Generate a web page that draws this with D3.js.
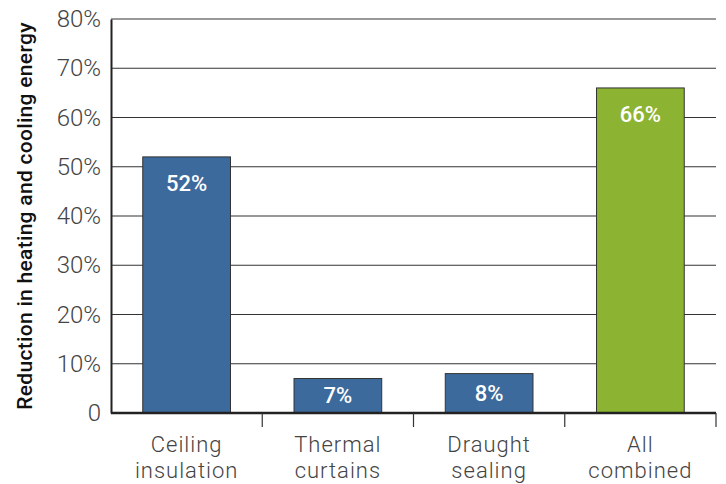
<!DOCTYPE html>
<html>
<head>
<meta charset="utf-8">
<script src="https://cdn.jsdelivr.net/npm/d3@7"></script>
<style>
  html, body { margin: 0; padding: 0; background: #fff; overflow: hidden; }
  svg { display: block; }
  svg text { font-family: Roboto, "DejaVu Sans", sans-serif; }
</style>
</head>
<body>
<div id="chart"></div>
<script>
const categories = [["Ceiling", "insulation"], ["Thermal", "curtains"], ["Draught", "sealing"], ["All", "combined"]];
const values = [52, 7, 8, 66];
const barColors = ["#3d6a9c", "#3d6a9c", "#3d6a9c", "#8db332"];
const yTicks = [0, 10, 20, 30, 40, 50, 60, 70, 80];

const width = 726, height = 484;
const margin = { top: 19, right: 10, bottom: 71, left: 111 };
const innerWidth = width - margin.left - margin.right;
const innerHeight = height - margin.top - margin.bottom;

const svg = d3.select("#chart")
  .append("svg")
    .attr("width", width)
    .attr("height", height);

const innerChart = svg
  .append("g")
    .attr("transform", `translate(${margin.left}, ${margin.top})`);

const xScale = d3.scaleBand()
  .domain(d3.range(categories.length))
  .range([0, innerWidth])
  .paddingInner(0.42)
  .paddingOuter(0.21);

const yScale = d3.scaleLinear()
  .domain([0, 80])
  .range([innerHeight, 0]);

// gridlines
innerChart
  .append("g")
    .attr("class", "grid")
  .selectAll("line")
  .data(yTicks.slice(1))
  .join("line")
    .attr("x1", 0)
    .attr("x2", innerWidth)
    .attr("y1", d => yScale(d))
    .attr("y2", d => yScale(d))
    .attr("stroke", "#333")
    .attr("stroke-width", 1.2);

// bars
innerChart
  .append("g")
  .selectAll("rect")
  .data(values)
  .join("rect")
    .attr("x", (d, i) => xScale(i))
    .attr("y", d => yScale(d))
    .attr("width", xScale.bandwidth())
    .attr("height", d => innerHeight - yScale(d))
    .attr("fill", (d, i) => barColors[i])
    .attr("stroke", "#333")
    .attr("stroke-width", 1);

// value labels
innerChart
  .append("g")
  .selectAll("text")
  .data(values)
  .join("text")
    .attr("x", (d, i) => xScale(i) + xScale.bandwidth() / 2)
    .attr("y", d => Math.min(yScale(d) + 27, (yScale(d) + innerHeight) / 2))
    .attr("text-anchor", "middle")
    .attr("dominant-baseline", "central")
    .attr("fill", "#fff")
    .style("font-size", "22px")
    .style("font-weight", 500)
    .text(d => `${d}%`);

// y axis
const leftAxis = d3.axisLeft(yScale)
  .tickValues(yTicks)
  .tickSize(0)
  .tickPadding(10)
  .tickFormat(d => d === 0 ? "0" : `${d}%`);
innerChart
  .append("g")
    .attr("class", "axis axis-y")
    .call(leftAxis)
    .call(g => g.select(".domain").attr("stroke", "#222").attr("stroke-width", 2))
    .call(g => g.selectAll("text")
      .attr("fill", "#444")
      .style("font-size", "24px")
      .style("font-weight", 300));

// x axis
const tickPositions = d3.range(1, categories.length + 1).map(i => i * xScale.step());
const xAxisG = innerChart
  .append("g")
    .attr("class", "axis axis-x")
    .attr("transform", `translate(0, ${innerHeight})`);
xAxisG.append("line")
    .attr("x1", 0)
    .attr("x2", innerWidth)
    .attr("stroke", "#222")
    .attr("stroke-width", 2.5);
xAxisG.selectAll(".tick-mark")
  .data(tickPositions)
  .join("line")
    .attr("class", "tick-mark")
    .attr("x1", d => d)
    .attr("x2", d => d)
    .attr("y1", 0)
    .attr("y2", 14)
    .attr("stroke", "#333")
    .attr("stroke-width", 1.2);

const catLabels = xAxisG.selectAll(".cat")
  .data(categories)
  .join("text")
    .attr("class", "cat")
    .attr("text-anchor", "middle")
    .attr("fill", "#444")
    .style("font-size", "22px")
    .style("font-weight", 300)
    .style("letter-spacing", "1px");
catLabels.selectAll("tspan")
  .data((d, i) => d.map(t => ({ t, i })))
  .join("tspan")
    .attr("x", d => xScale(d.i) + xScale.bandwidth() / 2)
    .attr("y", (d, j) => 39 + j * 26)
    .text(d => d.t);

// y axis title
svg
  .append("text")
    .attr("transform", `translate(32, ${margin.top + innerHeight / 2}) rotate(-90)`)
    .attr("text-anchor", "middle")
    .attr("fill", "#111")
    .style("font-size", "21px")
    .style("font-weight", 500)
    .style("letter-spacing", "0.3px")
    .text("Reduction in heating and cooling energy");
</script>
</body>
</html>
